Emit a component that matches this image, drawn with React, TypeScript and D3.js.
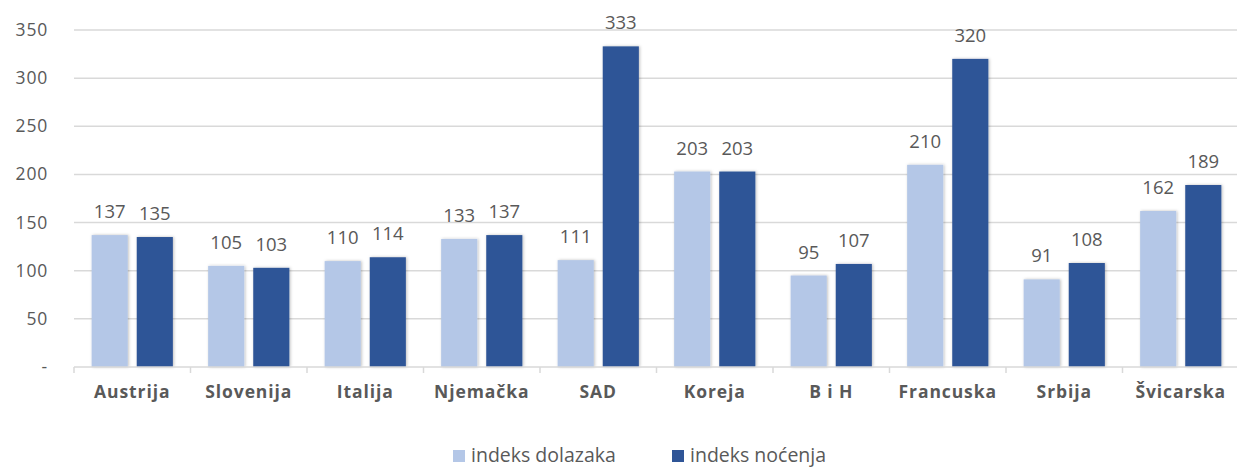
import React from "react";
import * as d3 from "d3";

const categories = ["Austrija", "Slovenija", "Italija", "Njemačka", "SAD", "Koreja", "B i H", "Francuska", "Srbija", "Švicarska"];
const dolazaka = [137, 105, 110, 133, 111, 203, 95, 210, 91, 162];
const nocenja = [135, 103, 114, 137, 333, 203, 107, 320, 108, 189];
const yTicks = [0, 50, 100, 150, 200, 250, 300, 350];
const seriesNames = ["indeks dolazaka", "indeks noćenja"];
const colors = ["#b4c7e7", "#2f5597"];

const W = 1237, H = 468;
const left = 74, right = 1239, top = 30, bottom = 367;
const textColor = "#595959";
const font = "'Open Sans', sans-serif";

export default function App() {
  const x = d3.scaleBand<string>().domain(categories).range([left, right]).paddingInner(0).paddingOuter(0);
  const y = d3.scaleLinear().domain([0, 350]).range([bottom, top]);
  const bw = x.bandwidth();
  const barW = bw * 0.31;
  const gap = bw * 0.077;
  const pad = (bw - 2 * barW - gap) / 2;
  const series = [dolazaka, nocenja];

  return (
    <svg width={W} height={H} style={{ position: "absolute", left: 0, top: 0, background: "#fff" }}>
      <defs>
        <filter id="sh" x="-20%" y="-10%" width="140%" height="120%">
          <feDropShadow dx="1" dy="0" stdDeviation="1.5" floodColor="#000" floodOpacity="0.25" />
        </filter>
      </defs>
      {yTicks.filter(t => t > 0).map(t => (
        <line key={t} x1={left} x2={W} y1={y(t)} y2={y(t)} stroke="#d9d9d9" strokeWidth={1.5} />
      ))}
      {yTicks.map(t => (
        <text key={t} x={48} y={y(t) + 6} textAnchor="end" fontFamily={font} fontSize={17.5} fill={textColor} letterSpacing={0.8}>
          {t === 0 ? "-" : t}
        </text>
      ))}
      {categories.map((c, i) => (
        <g key={c}>
          {series.map((s, j) => {
            const bx = x(c)! + pad + j * (barW + gap);
            return (
              <g key={j}>
                <rect x={bx} y={y(s[i])} width={barW} height={bottom - y(s[i])} fill={colors[j]} filter="url(#sh)" />
                <text x={bx + barW / 2} y={y(s[i]) - 17} textAnchor="middle" fontFamily={font} fontSize={18.5} fill={textColor}>
                  {s[i]}
                </text>
              </g>
            );
          })}
          <text x={x(c)! + bw / 2} y={398} textAnchor="middle" fontFamily={font} fontSize={17.5} fontWeight="bold" fill={textColor} letterSpacing={0.9}>
            {c}
          </text>
        </g>
      ))}
      <line x1={left} x2={W} y1={bottom} y2={bottom} stroke="#d9d9d9" strokeWidth={1.5} />
      {categories.map((c) => (
        <line key={c} x1={x(c)!} x2={x(c)!} y1={bottom} y2={bottom + 6} stroke="#d9d9d9" strokeWidth={1.5} />
      ))}
      {seriesNames.map((n, j) => {
        const lx = j === 0 ? 453 : 672;
        return (
          <g key={n}>
            <rect x={lx} y={450} width={12} height={12} fill={colors[j]} />
            <text x={lx + 18} y={462} fontFamily={font} fontSize={19.5} fill={textColor}>{n}</text>
          </g>
        );
      })}
    </svg>
  );
}
